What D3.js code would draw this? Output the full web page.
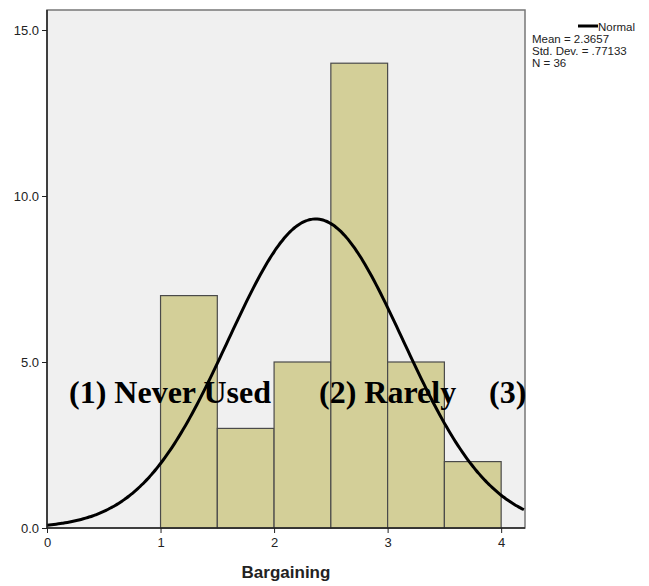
<!DOCTYPE html>
<html>
<head>
<meta charset="utf-8">
<script src="https://cdn.jsdelivr.net/npm/d3@7"></script>
<style>
body { margin: 0; background: #fff; }
svg { display: block; }
</style>
</head>
<body>
<svg></svg>
<script>
// histogram bins (lower edge, upper edge) and counts
const binStart = [1, 1.5, 2, 2.5, 3, 3.5];
const binEnd = [1.5, 2, 2.5, 3, 3.5, 4];
const counts = [7, 3, 5, 14, 5, 2];
const xTicks = [0, 1, 2, 3, 4];
const yTicks = [0, 5, 10, 15];
const legendLines = ['Mean = 2.3657', 'Std. Dev. = .77133', 'N = 36'];
const mean = 2.3657, sd = 0.77133, n = 36, binWidth = 0.5;
const overlayLabels = ['(1) Never Used', '(2) Rarely', '(3)'];
const overlayX = [69, 319, 489];

const W = 649, H = 586;
const svg = d3.select('svg').attr('width', W).attr('height', H);

const mLeft = 47, mRight = 525, mTop = 10, mBottom = 528;

const x = d3.scaleLinear().domain([0, 4.21]).range([mLeft, mRight]);
const y = d3.scaleLinear().domain([0, 15]).range([mBottom, mBottom - 15 * (mBottom - 362) / 5]);

// plot background
svg.append('rect')
  .attr('x', mLeft).attr('y', mTop)
  .attr('width', mRight - mLeft).attr('height', mBottom - mTop)
  .attr('fill', '#f0f0f0')
  .attr('stroke', '#777').attr('stroke-width', 1.5);

// bars
svg.selectAll('rect.bar').data(counts)
  .enter().append('rect')
  .attr('class', 'bar')
  .attr('x', (d, i) => x(binStart[i]))
  .attr('y', d => y(d))
  .attr('width', (d, i) => x(binEnd[i]) - x(binStart[i]))
  .attr('height', d => y(0) - y(d))
  .attr('fill', '#d3cf98')
  .attr('stroke', '#4a4a4a')
  .attr('stroke-width', 1.2);

// normal curve
const pts = d3.range(0, 4.211, 0.02).map(v => [v,
  n * binWidth * Math.exp(-0.5 * Math.pow((v - mean) / sd, 2)) / (sd * Math.sqrt(2 * Math.PI))]);
svg.append('path')
  .datum(pts)
  .attr('d', d3.line().x(d => x(d[0])).y(d => y(d[1])).curve(d3.curveBasis))
  .attr('fill', 'none')
  .attr('stroke', '#000')
  .attr('stroke-width', 3);

// axes
const xAxis = svg.append('g')
  .attr('transform', `translate(0,${mBottom})`)
  .call(d3.axisBottom(x).tickValues(xTicks).tickFormat(d3.format('d')).tickSize(5).tickSizeOuter(0));
const yAxis = svg.append('g')
  .attr('transform', `translate(${mLeft},0)`)
  .call(d3.axisLeft(y).tickValues(yTicks).tickFormat(d3.format('.1f')).tickSize(5).tickSizeOuter(0));

[xAxis, yAxis].forEach(g => {
  g.selectAll('text').attr('font-family', 'Arial, "Liberation Sans", sans-serif')
    .attr('font-size', 13).attr('fill', '#222');
  g.selectAll('line').attr('stroke', '#222');
  g.select('.domain').attr('stroke', '#222').attr('stroke-width', 1.5);
});
xAxis.select('.domain').attr('d', `M${mLeft},0H${mRight}`);
yAxis.select('.domain').attr('d', `M0,${mBottom}V${mTop}`);
xAxis.selectAll('text').attr('dy', '0.85em');

svg.append('text')
  .attr('x', 286).attr('y', 578)
  .attr('text-anchor', 'middle')
  .attr('font-family', 'Arial, "Liberation Sans", sans-serif')
  .attr('font-size', 17).attr('font-weight', 'bold')
  .attr('fill', '#222')
  .text('Bargaining');

// legend
svg.append('line')
  .attr('x1', 578).attr('x2', 598).attr('y1', 26).attr('y2', 26)
  .attr('stroke', '#000').attr('stroke-width', 3);
svg.append('text')
  .attr('x', 598).attr('y', 31)
  .attr('font-family', 'Arial, "Liberation Sans", sans-serif')
  .attr('font-size', 11.5).attr('fill', '#222')
  .text('Normal');
svg.selectAll('text.stat').data(legendLines)
  .enter().append('text')
  .attr('class', 'stat')
  .attr('x', 532).attr('y', (d, i) => 43 + i * 12)
  .attr('font-family', 'Arial, "Liberation Sans", sans-serif')
  .attr('font-size', 11.5).attr('fill', '#222')
  .text(d => d);

// overlaid category labels
svg.selectAll('text.cat').data(overlayLabels)
  .enter().append('text')
  .attr('class', 'cat')
  .attr('x', (d, i) => overlayX[i]).attr('y', 403)
  .attr('font-family', '"Liberation Serif", "Times New Roman", serif')
  .attr('font-size', 32).attr('font-weight', 'bold')
  .attr('fill', '#000')
  .text(d => d);
</script>
</body>
</html>
